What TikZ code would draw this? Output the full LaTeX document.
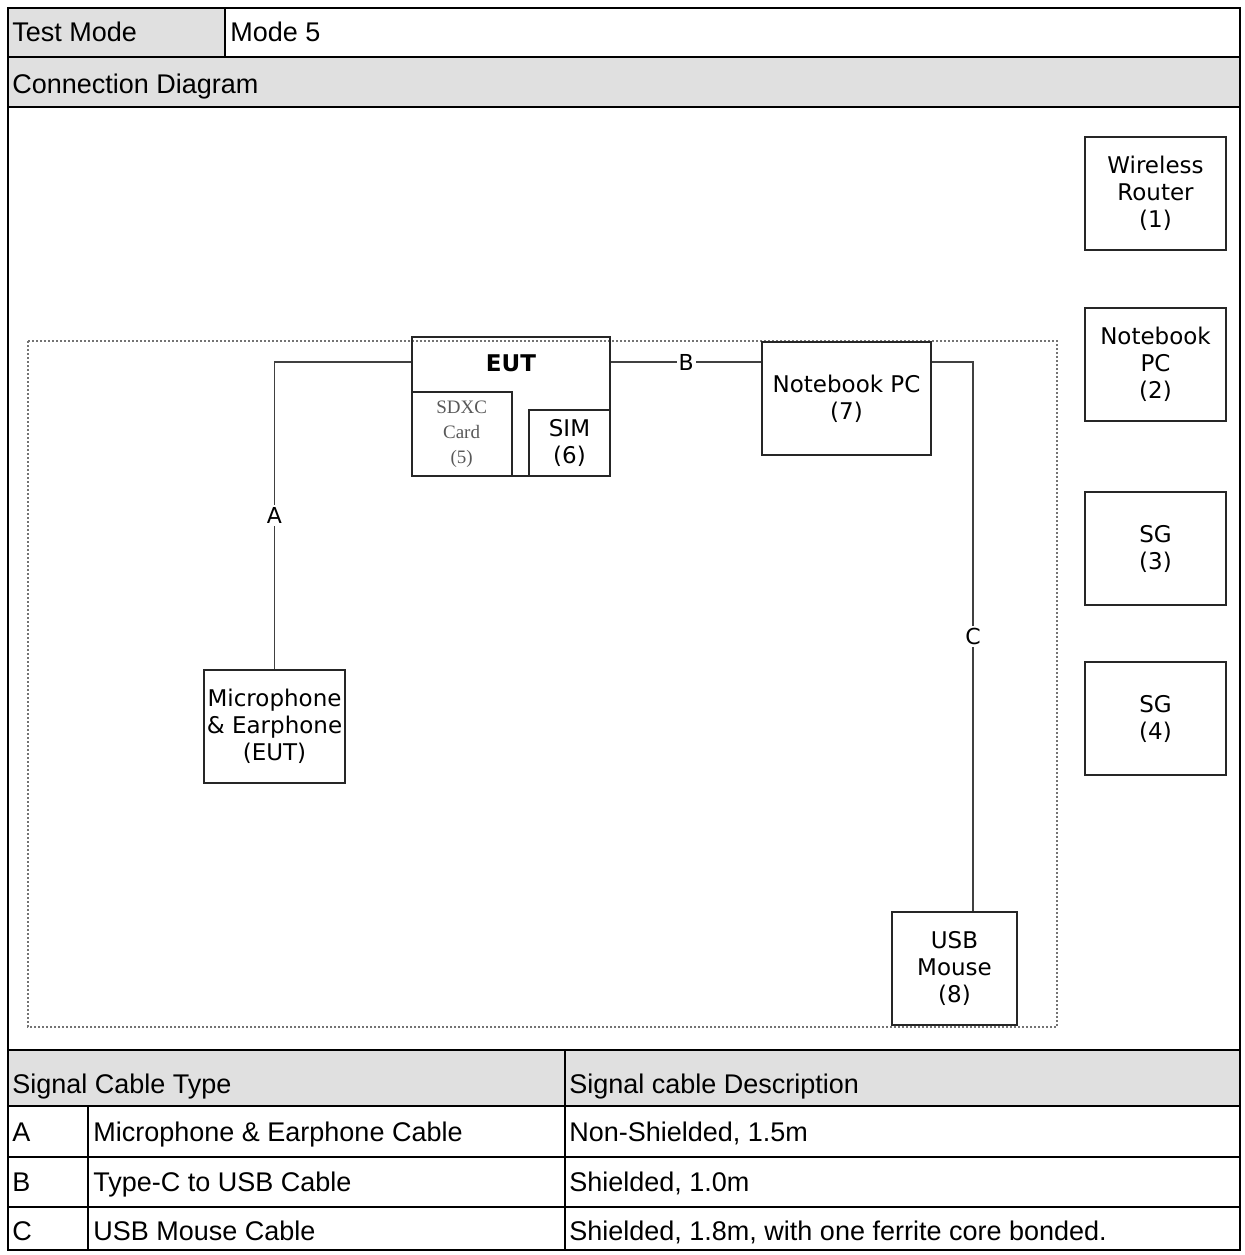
\documentclass[tikz,border=0pt]{standalone}
\usepackage{fontspec}
\setmainfont{Liberation Sans}
\newfontfamily\diagfont{DejaVu Sans}
\newfontfamily\cardfont{Liberation Serif}
\usetikzlibrary{positioning}
\definecolor{cellgrey}{RGB}{224,224,224}

\begin{document}
\begin{tikzpicture}[
  x=0.5pt, y=-0.5pt,
  font=\fontsize{13.5}{16}\selectfont,
  grid/.style={draw=black, line width=1.2pt},
  cell/.style={anchor=west, inner sep=0pt, text height=9.7pt, text depth=0pt},
  unit/.style={rectangle, draw=black!85, line width=1pt, align=center,
               inner sep=0pt, minimum width=70.5pt, minimum height=56.5pt,
               font=\diagfont\fontsize{11.5}{13.5}\selectfont},
  cable/.style={draw=black!75, line width=0.9pt},
  tag/.style={fill=white, inner sep=1pt,
              font=\diagfont\fontsize{11}{13}\selectfont},
  zone/.style={draw=black!55, line width=1.1pt, dash pattern=on 1pt off 1pt},
]

\useasboundingbox (0,0) rectangle (1245,1255);

% table frame
\fill[cellgrey] (8,8) rectangle (225,57);
\fill[cellgrey] (8,57) rectangle (1240,107);
\fill[cellgrey] (8,1050) rectangle (1240,1106);
\draw[grid] (8,8) rectangle (1240,1250);
\draw[grid] (8,57) -- (1240,57);
\draw[grid] (8,107) -- (1240,107);
\draw[grid] (8,1050) -- (1240,1050);
\draw[grid] (8,1106) -- (1240,1106);
\draw[grid] (8,1157) -- (1240,1157);
\draw[grid] (8,1207) -- (1240,1207);
\draw[grid] (225,8) -- (225,57);
\draw[grid] (565,1050) -- (565,1250);
\draw[grid] (88,1106) -- (88,1250);

\node[cell] (tm)   at (12,32)    {Test Mode};
\node[cell] (mode) at (230,32)   {Mode 5};
\node[cell] (cd)   at (12,84)    {Connection Diagram};
\node[cell] (sct)  at (12,1084)  {Signal Cable Type};
\node[cell] (scd)  at (569,1084) {Signal cable Description};
\node[cell] (ta)   at (12,1132)  {A};
\node[cell] (ca)   at (93,1132)  {Microphone \& Earphone Cable};
\node[cell] (da)   at (569,1132) {Non-Shielded, 1.5m};
\node[cell] (tb)   at (12,1182)  {B};
\node[cell] (cb)   at (93,1182)  {Type-C to USB Cable};
\node[cell] (db)   at (569,1182) {Shielded, 1.0m};
\node[cell] (tc)   at (12,1231)  {C};
\node[cell] (cc)   at (93,1231)  {USB Mouse Cable};
\node[cell] (dc)   at (569,1231) {Shielded, 1.8m, with one ferrite core bonded.};

% test table area
\draw[zone] (28,341) rectangle (1057,1027);

\node[unit] (router) at (1155.5,193.5) {Wireless\\Router\\(1)};
\node[unit, below=28pt of router] (nb2) {Notebook\\PC\\(2)};
\node[unit, below=34.5pt of nb2]  (sg3) {SG\\(3)};
\node[unit, below=27.5pt of sg3]  (sg4) {SG\\(4)};

\node[unit, line width=1.4pt, minimum width=99pt, minimum height=69.5pt]
  (eut) at (511,406.5) {};
\node[font=\diagfont\bfseries\fontsize{11.5}{13.5}\selectfont] (euttxt) at (511,363) {EUT};
\node[unit, anchor=south west, minimum width=50pt, minimum height=42pt,
      font=\cardfont\fontsize{9.5}{12.5}\selectfont, text=black!65]
  (sdxc) at (eut.south west) {SDXC\\Card\\(5)};
\node[unit, anchor=south east, minimum width=40.5pt, minimum height=33pt,
      line width=1.4pt] (sim) at (eut.south east) {SIM\\(6)};

\node[unit, minimum width=84.5pt] (nb7) at (846.5,398.5) {Notebook PC\\(7)};
\node[unit] (mic) at (274.5,726.5) {Microphone\\\& Earphone\\(EUT)};
\node[unit, minimum width=62.5pt] (mouse) at (954.5,968.5) {USB\\Mouse\\(8)};

\draw[cable] ([yshift=22.25pt]eut.west) -| node[tag, pos=0.75] {A} (mic.north);
\draw[cable] ([yshift=22.25pt]eut.east) -- node[tag] {B} ([yshift=18.25pt]nb7.west);
\draw[cable] ([yshift=18.25pt]nb7.east) -| node[tag, pos=0.75] {C} ([xshift=9.25pt]mouse.north);

\end{tikzpicture}
\end{document}
